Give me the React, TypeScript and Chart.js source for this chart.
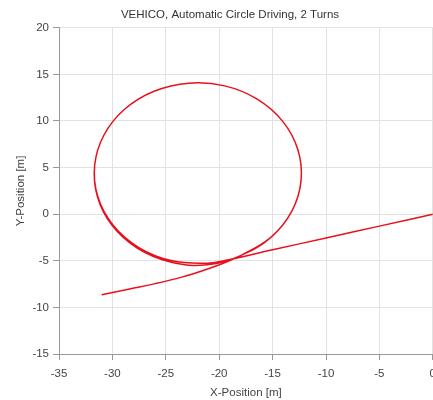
import React, { useEffect, useRef } from "react";
import { Chart, registerables } from "chart.js";

Chart.register(...registerables);

// Trajectory (X-Position [m], Y-Position [m])
const entryX = [-31.0, -28.5, -26.0, -23.5, -21.5, -19.8];
const entryY = [-8.65, -8.05, -7.45, -6.75, -6.05, -5.35];

const loop1X = [-17.9, -15.14, -13.21, -12.34, -12.63, -14.05, -16.44, -19.49, -22.85, -26.1, -28.86, -30.79, -31.66, -31.4, -30.02, -27.64, -24.55, -21.15];
const loop1Y = [-4.39, -2.46, 0.3, 3.55, 6.91, 9.96, 12.35, 13.77, 14.06, 13.19, 11.26, 8.5, 5.25, 1.87, -1.22, -3.66, -5.13, -5.43];

const loop2X = [-17.9, -15.14, -13.21, -12.34, -12.63, -14.05, -16.44, -19.49, -22.85, -26.1, -28.86, -30.79, -31.66, -31.37, -29.95, -27.56, -24.51, -21.15, -19.49];
const loop2Y = [-4.39, -2.46, 0.3, 3.55, 6.91, 9.96, 12.35, 13.77, 14.06, 13.19, 11.26, 8.5, 5.25, 1.89, -1.16, -3.55, -4.97, -5.26, -4.97];

const exitX = [-15.0, -10.0, -5.0, 0.0];
const exitY = [-3.82, -2.55, -1.28, 0.0];

const titleText = "VEHICO, Automatic Circle Driving, 2 Turns";
const xTitle = "X-Position [m]";
const yTitle = "Y-Position [m]";
const xMin = -35, xMax = 0, yMin = -15, yMax = 20, step = 5;

const FONT = "'Liberation Sans', Arial, sans-serif";

const titleShift = {
  id: "titleShift",
  afterLayout(chart: any) {
    const t = chart.titleBlock;
    if (t) {
      t.left = 28;
      t.right = 432;
      t.width = t.right - t.left;
    }
  },
};

export default function App() {
  const ref = useRef<HTMLCanvasElement | null>(null);

  useEffect(() => {
    const xs = [...entryX, ...loop1X, ...loop2X, ...exitX];
    const ys = [...entryY, ...loop1Y, ...loop2Y, ...exitY];
    const data = xs.map((x, i) => ({ x, y: ys[i] }));

    const chart = new Chart(ref.current as HTMLCanvasElement, {
      type: "scatter",
      data: {
        datasets: [
          {
            data,
            showLine: true,
            borderColor: "#e8101c",
            borderWidth: 1.5,
            pointRadius: 0,
            tension: 0.4,
            fill: false,
          },
        ],
      },
      plugins: [titleShift],
      options: {
        responsive: false,
        animation: false,
        layout: { padding: { left: 0, right: 5, top: 0, bottom: 0 } },
        plugins: {
          legend: { display: false },
          tooltip: { enabled: false },
          title: {
            display: true,
            text: titleText,
            color: "#333",
            font: { family: FONT, size: 11.5, weight: "normal" },
            padding: { top: 8, bottom: 6 },
          },
        },
        scales: {
          x: {
            type: "linear",
            min: xMin,
            max: xMax,
            afterFit: (s: any) => {
              s.height = 46;
            },
            ticks: {
              stepSize: step,
              color: "#444",
              font: { family: FONT, size: 11.5 },
              padding: 7,
              maxRotation: 0,
            },
            grid: { color: "#e2e2e2", tickLength: 6, tickColor: "#999" },
            border: { color: "#999" },
            title: {
              display: true,
              text: xTitle,
              color: "#444",
              font: { family: FONT, size: 11.5 },
              padding: { top: 0, bottom: 0 },
            },
          },
          y: {
            type: "linear",
            min: yMin,
            max: yMax,
            afterFit: (s: any) => {
              s.width = 59;
            },
            ticks: {
              stepSize: step,
              color: "#444",
              font: { family: FONT, size: 11.5 },
              padding: 4,
            },
            grid: { color: "#e2e2e2", tickLength: 6, tickColor: "#999" },
            border: { color: "#999" },
            title: {
              display: true,
              text: yTitle,
              color: "#444",
              font: { family: FONT, size: 11.5 },
              padding: { top: 14, bottom: 0 },
            },
          },
        },
      },
    });
    return () => chart.destroy();
  }, []);

  return (
    <div
      style={{
        position: "fixed",
        left: 0,
        top: 0,
        width: 433,
        height: 400,
        overflow: "hidden",
        background: "#fff",
      }}
    >
      <canvas ref={ref} width={443} height={400} style={{ display: "block" }} />
    </div>
  );
}
